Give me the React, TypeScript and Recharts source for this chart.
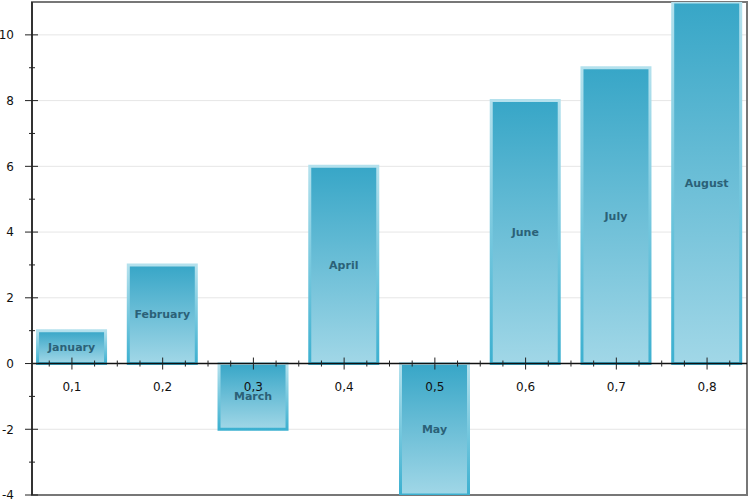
import React from 'react';
import {
  BarChart,
  Bar,
  XAxis,
  YAxis,
  CartesianGrid,
  ReferenceLine,
  ReferenceArea,
  LabelList,
} from 'recharts';

const months = ['January', 'February', 'March', 'April', 'May', 'June', 'July', 'August'];
const positions = [0.1, 0.2, 0.3, 0.4, 0.5, 0.6, 0.7, 0.8];
const values = [1, 3, -2, 6, -4, 8, 9, 11];

const xTicks = [
  0.075, 0.1, 0.125, 0.15, 0.175, 0.2, 0.225, 0.25, 0.275, 0.3, 0.325, 0.35, 0.375, 0.4,
  0.425, 0.45, 0.475, 0.5, 0.525, 0.55, 0.575, 0.6, 0.625, 0.65, 0.675, 0.7, 0.725, 0.75,
  0.775, 0.8, 0.825,
];
const yTicks = [-4, -3, -2, -1, 0, 1, 2, 3, 4, 5, 6, 7, 8, 9, 10];
const gridValues = [-2, 2, 4, 6, 8, 10];

const X_MIN = 0.056;
const X_MAX = 0.844;
const Y_MIN = -4;
const Y_MAX = 11;

const W = 749;
const H = 500;
const MARGIN = { top: 2, right: 2, bottom: 0, left: 0 };
const XAXIS_H = 5;
const YAXIS_W = 32;

const PLOT_TOP = MARGIN.top;
const PLOT_H = H - MARGIN.top - MARGIN.bottom - XAXIS_H;
// y of the zero line, where the category axis sits
const ZERO_Y = PLOT_TOP + (PLOT_H * (Y_MAX - 0)) / (Y_MAX - Y_MIN);

const FONT = '"DejaVu Sans", "Lucida Grande", sans-serif';

const data = positions.map((x, i) => ({ x, value: values[i], name: months[i] }));

const isMajorX = (v: number) => Math.abs(v * 10 - Math.round(v * 10)) < 1e-6;

const XTick = (props: any) => {
  const { x, payload } = props;
  const v = payload.value as number;
  const major = isMajorX(v);
  const len = major ? 6 : 3;
  return (
    <g>
      <line x1={x} x2={x} y1={ZERO_Y - len} y2={ZERO_Y + len} stroke="#222" strokeWidth={1} />
      {major && (
        <text x={x} y={ZERO_Y + 27.5} textAnchor="middle" fontSize={12} fontFamily={FONT} fill="#111">
          {v.toFixed(1).replace('.', ',')}
        </text>
      )}
    </g>
  );
};

const YTick = (props: any) => {
  const { x, y, payload } = props;
  const v = payload.value as number;
  const major = v % 2 === 0;
  return (
    <g>
      <line x1={x - (major ? 7 : 3)} x2={x + (major ? 6 : 3)} y1={y} y2={y} stroke="#222" strokeWidth={1} />
      {major && (
        <text x={x - 18} y={y} dy="0.36em" textAnchor="end" fontSize={12} fontFamily={FONT} fill="#111">
          {v}
        </text>
      )}
    </g>
  );
};

export default function App() {
  return (
    <div style={{ position: 'absolute', left: 0, top: 0, background: '#fff' }}>
      <BarChart width={W} height={H} data={data} margin={MARGIN}>
        <defs>
          <linearGradient id="barFill" x1="0" y1="0" x2="0" y2="1">
            <stop offset="0%" stopColor="#37a6c7" />
            <stop offset="100%" stopColor="#a1d7e7" />
          </linearGradient>
          <linearGradient id="barStroke" x1="0" y1="0" x2="0" y2="1">
            <stop offset="0%" stopColor="#b4e1ed" />
            <stop offset="100%" stopColor="#3cb0d0" />
          </linearGradient>
        </defs>
        <CartesianGrid vertical={false} horizontalValues={gridValues} stroke="#e6e6e6" strokeWidth={1} />
        <ReferenceArea x1={X_MIN} x2={X_MAX} y1={Y_MIN} y2={Y_MAX} fill="none" stroke="#777" strokeWidth={2} ifOverflow="visible" />
        <YAxis
          type="number"
          domain={[Y_MIN, Y_MAX]}
          ticks={yTicks}
          width={YAXIS_W}
          tickSize={0}
          tickMargin={0}
          tickLine={false}
          axisLine={{ stroke: '#333', strokeWidth: 2 }}
          tick={<YTick />}
          allowDataOverflow
          interval={0}
        />
        <Bar
          dataKey="value"
          barSize={68}
          fill="url(#barFill)"
          stroke="url(#barStroke)"
          strokeWidth={3}
          isAnimationActive={false}
        >
          <LabelList dataKey="name" position="center" fontSize={11} fontWeight="bold" fontFamily={FONT} fill="#2b6177" />
        </Bar>
        <ReferenceLine y={0} stroke="#111" strokeWidth={1.5} />
        <XAxis
          type="number"
          dataKey="x"
          domain={[X_MIN, X_MAX]}
          ticks={xTicks}
          height={XAXIS_H}
          tickSize={0}
          tickMargin={0}
          tickLine={false}
          axisLine={false}
          tick={<XTick />}
          allowDataOverflow
          interval={0}
        />
      </BarChart>
    </div>
  );
}
